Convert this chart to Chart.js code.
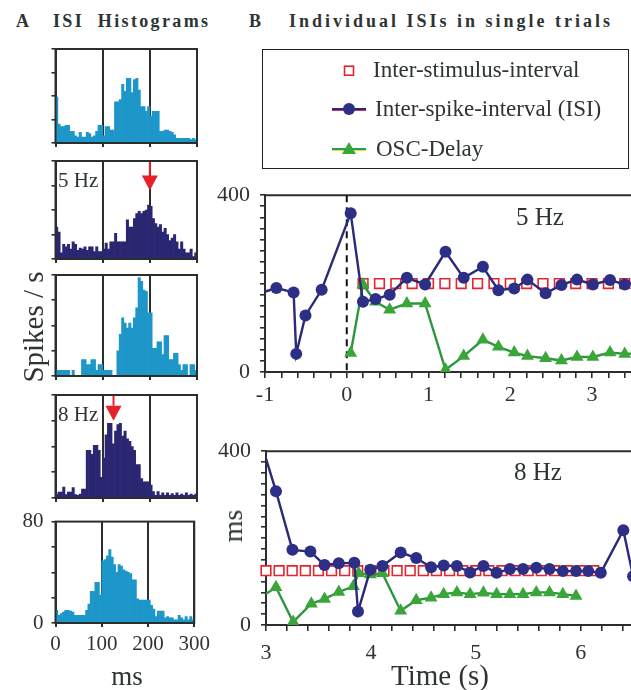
<!DOCTYPE html>
<html>
<head>
<meta charset="utf-8">
<title>ISI histograms and single-trial ISIs</title>
<script src="https://cdn.jsdelivr.net/npm/chart.js@4.4.1/dist/chart.umd.min.js"></script>
<style>
  html, body { margin: 0; padding: 0; background: #fff; }
  body { position: relative; width: 631px; height: 690px; overflow: hidden;
         font-family: "Liberation Serif", "Times New Roman", serif; color: #2e3434; }
  canvas, .txt { position: absolute; }
  .txt { white-space: pre; line-height: 1; }
  .bold { font-weight: bold; font-size: 18px; }
  .rot { transform: translate(-50%, -50%) rotate(-90deg); }
  .ctr { transform: translate(-50%, -50%); }
  .leg { font-size: 23px; }
  #legendBox { position: absolute; left: 262px; top: 49px; width: 365px; height: 118px; border: 1.6px solid #222; }
</style>
</head>
<body>
<div class="txt bold" style="left:16px; top:12px;">A</div>
<div class="txt bold" id="titleA" style="left:53px; top:12px;">ISI  Histograms</div>
<div class="txt bold" style="left:249px; top:12px;">B</div>
<div class="txt bold" id="titleB" style="left:289px; top:12px;">Individual ISIs in single trials</div>

<canvas id="h1"></canvas>
<canvas id="h2"></canvas>
<canvas id="h3"></canvas>
<canvas id="h4"></canvas>
<canvas id="h5"></canvas>
<canvas id="c5"></canvas>
<canvas id="c8"></canvas>

<div class="txt" style="left:58px; top:170px; font-size:21px;">5 Hz</div>
<div class="txt" style="left:58px; top:404px; font-size:21px;">8 Hz</div>
<div class="txt rot" style="left:33px; top:327px; font-size:29px;">Spikes / s</div>
<div class="txt ctr" style="left:127px; top:676px; font-size:27px;">ms</div>
<div class="txt ctr" style="left:540px; top:216px; font-size:25px;">5 Hz</div>
<div class="txt ctr" style="left:538px; top:471px; font-size:25px;">8 Hz</div>
<div class="txt rot" style="left:233px; top:526px; font-size:28px;">ms</div>
<div class="txt ctr" style="left:440px; top:675px; font-size:29px;">Time (s)</div>

<div id="legendBox"></div>
<svg style="position:absolute; left:262px; top:49px;" width="367" height="120">
  <rect x="82.5" y="17.2" width="9" height="9" fill="#fff" stroke="#e3262d" stroke-width="1.6"/>
  <line x1="70" y1="61.3" x2="104" y2="61.3" stroke="#c0307a" stroke-width="1.2"/>
  <line x1="70" y1="60" x2="104" y2="60" stroke="#2b2a78" stroke-width="2.2"/>
  <circle cx="87" cy="60" r="6" fill="#2d2f86"/>
  <line x1="70" y1="101.3" x2="104" y2="101.3" stroke="#e6e22a" stroke-width="1.2"/>
  <line x1="70" y1="100" x2="104" y2="100" stroke="#2a9a5a" stroke-width="2.2"/>
  <polygon points="87,93 80,105 94,105" fill="#3aa63a"/>
</svg>
<div class="txt leg" style="left:373px; top:58px;">Inter-stimulus-interval</div>
<div class="txt leg" style="left:375px; top:96.5px;">Inter-spike-interval (ISI)</div>
<div class="txt leg" style="left:376px; top:136.5px;">OSC-Delay</div>

<script>
// ---- histogram data (5 ms bins, spikes/s) ----
const binStart = [0, 5, 10, 15, 20, 25, 30, 35, 40, 45, 50, 55, 60, 65, 70, 75, 80, 85, 90, 95,
  100, 105, 110, 115, 120, 125, 130, 135, 140, 145, 150, 155, 160, 165, 170, 175, 180, 185, 190, 195,
  200, 205, 210, 215, 220, 225, 230, 235, 240, 245, 250, 255, 260, 265, 270, 275, 280, 285, 290, 295];
const binWidth = 5;
const histTop = [39, 16, 14, 14, 15, 15, 10, 10, 6, 5, 9, 5, 5, 9, 8, 5, 6, 10, 15, 15,
  6, 14, 14, 11, 11, 35, 35, 37, 50, 44, 55, 55, 43, 54, 55, 45, 31, 31, 27, 31,
  23, 27, 27, 27, 10, 10, 11, 11, 10, 9, 7, 4, 4, 4, 4, 4, 4, 3, 4, 3];
const hist5Hz = [26, 22, 5, 12, 10, 12, 8, 14, 12, 7, 9, 8, 10, 7, 10, 10, 6, 10, 6, 6,
  8, 13, 8, 14, 14, 21, 14, 14, 14, 14, 32, 26, 26, 33, 37, 39, 37, 39, 40, 44,
  43, 33, 29, 26, 28, 22, 25, 20, 15, 17, 20, 14, 8, 14, 8, 5, 5, 8, 2, 5];
const histMid = [4.5, 4.5, 4.5, 4.5, 4.5, 4.5, 0, 4.5, 0, 0, 0, 13, 13, 9, 9, 13, 13, 4.5, 9, 9,
  4.5, 4.5, 4.5, 4.5, 0, 0, 20, 33, 46, 42, 38, 42, 38, 46, 54, 78, 75, 68, 67, 50,
  50, 22, 22, 27, 27, 17, 32, 32, 13, 13, 18, 18, 9, 4.5, 9, 9, 0, 9, 9, 4.5];
const hist8Hz = [2.6, 4.6, 4.6, 8.5, 2.6, 4.6, 4.6, 8, 2.6, 2, 3, 7, 7, 37, 37, 34, 41, 41, 37, 16,
  31, 49, 58, 58, 42, 52, 57, 58, 48, 52, 46, 44, 40, 37, 26, 26, 15, 12.5, 12.5, 12.5,
  10, 5, 2, 5, 2, 4, 2, 4, 2, 3.4, 2, 4, 2, 3, 2, 4, 2, 3, 2, 3];
const histBottom = [10, 6, 7.5, 8.7, 10, 10, 9.4, 8.7, 6, 6, 6, 6, 6, 10, 15, 25, 25, 32, 32, 22,
  49, 50, 53, 58, 52, 46, 40, 46, 45, 42, 41, 40, 39, 34, 34, 19, 18, 18, 18, 18,
  18, 14, 11, 5, 9.4, 9.4, 9.4, 4, 5, 4, 4, 2.5, 2.5, 6, 4, 2.5, 5, 2.5, 5, 2.5];
const histXTicks = [0, 100, 200, 300];
const histYTicks = [0, 20, 40, 60, 80];
const arrowMs = [200, 123];
const arrowTip = [56, 60];

// ---- single trials: time (s) and interval (ms) ----
const t5Isi = [-1.1, -0.861, -0.65, -0.618, -0.505, -0.307, 0.048, 0.198, 0.352, 0.525, 0.735, 0.958,
  1.208, 1.43, 1.665, 1.855, 2.048, 2.21, 2.432, 2.626, 2.816, 3.01, 3.22, 3.40, 3.6];
const isi5 = [176, 190, 180, 41, 128, 186, 359, 159, 165, 175, 213, 198,
  272, 213, 238, 185, 189, 209, 178, 197, 209, 198, 208, 198, 205];
const t5Osc = [0.048, 0.198, 0.352, 0.525, 0.735, 0.958, 1.208, 1.43, 1.665, 1.855,
  2.048, 2.21, 2.432, 2.626, 2.816, 3.01, 3.22, 3.40, 3.6];
const osc5 = [43, 198, 159, 141, 155, 155, 5, 36, 73, 57, 44, 36, 31, 26, 34, 34, 44, 41, 42];
const t5Stim = [0.2, 0.4, 0.6, 0.8, 1.0, 1.2, 1.4, 1.6, 1.8, 2.0, 2.2, 2.4, 2.6, 2.8, 3.0, 3.2, 3.4];
const stim5 = [200, 200, 200, 200, 200, 200, 200, 200, 200, 200, 200, 200, 200, 200, 200, 200, 200];

const t8Isi = [2.94, 3.095, 3.252, 3.423, 3.558, 3.694, 3.842, 3.877, 3.994, 4.11, 4.284, 4.432, 4.574, 4.694,
  4.82, 4.946, 5.073, 5.199, 5.325, 5.451, 5.577, 5.703, 5.83, 5.956, 6.072, 6.192, 6.407, 6.5];
const isi8 = [430, 308, 173, 169, 138, 142, 143, 31, 127, 136, 167, 154, 133, 137,
  136, 121, 136, 120, 129, 129, 132, 129, 124, 124, 124, 120, 218, 112];
const t8Osc = [2.94, 3.095, 3.259, 3.432, 3.558, 3.694, 3.833, 3.883, 3.994, 4.11, 4.284, 4.432,
  4.574, 4.694, 4.82, 4.946, 5.073, 5.199, 5.325, 5.451, 5.577, 5.703, 5.83, 5.956];
const osc8 = [62, 87, 7, 49, 60, 76, 89, 119, 116, 119, 33, 57, 63, 71, 75, 71, 74, 71, 71, 71, 75, 75, 71, 67];
const t8Stim = [3.0, 3.125, 3.25, 3.375, 3.5, 3.625, 3.75, 3.875, 4.0, 4.125, 4.25, 4.375, 4.5,
  4.625, 4.75, 4.875, 5.0, 5.125, 5.25, 5.375, 5.5, 5.625, 5.75, 5.875, 6.0, 6.125];
const stim8 = [125, 125, 125, 125, 125, 125, 125, 125, 125, 125, 125, 125, 125,
  125, 125, 125, 125, 125, 125, 125, 125, 125, 125, 125, 125, 125];
const xLabels5 = [-1, 0, 1, 2, 3];
const xLabels8 = [3, 4, 5, 6];
const stimOnset = 0;

// ---- styling ----
const textColor = '#2e3434';
const frameColor = '#2a2f2e';
const cyan = '#1d97c9';
const navy = '#2b2672';
const serif = '"Liberation Serif", "Times New Roman", serif';

// frame box + red arrow for the histograms
const histFrame = {
  id: 'histFrame',
  afterDatasetsDraw(chart, args, opts) {
    const { ctx, chartArea: a, scales } = chart;
    ctx.save();
    if (opts.ms != null) {
      const x = scales.x.getPixelForValue(opts.ms);
      const tipY = scales.y.getPixelForValue(opts.tip);
      const h = 15, w = 16;
      ctx.strokeStyle = '#e8202a';
      ctx.lineWidth = 2;
      ctx.beginPath(); ctx.moveTo(x, a.top); ctx.lineTo(x, tipY - h); ctx.stroke();
      ctx.fillStyle = '#e8202a';
      ctx.beginPath();
      ctx.moveTo(x - w / 2, tipY - h); ctx.lineTo(x + w / 2, tipY - h); ctx.lineTo(x, tipY);
      ctx.closePath(); ctx.fill();
    }
    ctx.strokeStyle = frameColor;
    ctx.lineWidth = 2;
    ctx.strokeRect(a.left, a.top, a.right - a.left, a.bottom - a.top);
    ctx.restore();
  }
};

// top frame line + dashed stimulus onset for the trial plots
const trialFrame = {
  id: 'trialFrame',
  beforeDatasetsDraw(chart, args, opts) {
    const { ctx, chartArea: a, scales } = chart;
    ctx.save();
    ctx.strokeStyle = frameColor;
    ctx.lineWidth = 2;
    ctx.beginPath(); ctx.moveTo(a.left, a.top); ctx.lineTo(a.right, a.top); ctx.stroke();
    if (opts.onset != null) {
      const x = scales.x.getPixelForValue(opts.onset);
      ctx.strokeStyle = '#111';
      ctx.lineWidth = 2;
      ctx.setLineDash([7, 5]);
      ctx.beginPath(); ctx.moveTo(x, a.top); ctx.lineTo(x, a.bottom); ctx.stroke();
    }
    ctx.restore();
  }
};

function histChart(id, top, bottom, values, color, showLabels, arrow) {
  const padTop = 14;
  const axisH = showLabels ? 36 : 12;
  const w = 215, h = padTop + (bottom - top) + axisH;
  const c = document.getElementById(id);
  c.width = w; c.height = h;
  c.style.left = '0px'; c.style.top = (top - padTop) + 'px';
  c.style.width = w + 'px'; c.style.height = h + 'px';
  const tickFont = { family: serif, size: 21 };
  return new Chart(c, {
    type: 'bar',
    data: {
      datasets: [{
        data: binStart.map((s, i) => ({ x: s + binWidth / 2, y: values[i] })),
        backgroundColor: color, borderWidth: 0,
        barPercentage: 1, categoryPercentage: 1
      }]
    },
    options: {
      responsive: false, animation: false,
      layout: { padding: { top: padTop, right: w - 197, left: 0, bottom: 0 } },
      plugins: { legend: { display: false }, tooltip: { enabled: false }, histFrame: arrow || {} },
      scales: {
        x: {
          type: 'linear', min: 0, max: 300, offset: false,
          afterBuildTicks: s => { s.ticks = histXTicks.map(v => ({ value: v })); },
          afterFit: s => { s.height = axisH; },
          grid: { offset: false, color: frameColor, lineWidth: 2, tickLength: 4 },
          border: { display: true, color: frameColor, width: 2 },
          ticks: { display: showLabels, padding: 5, maxRotation: 0, autoSkip: false, color: textColor, font: tickFont }
        },
        y: {
          min: 0, max: 80,
          afterBuildTicks: s => { s.ticks = histYTicks.map(v => ({ value: v })); },
          afterFit: s => { s.width = 55.5; },
          grid: { drawOnChartArea: false, tickLength: 4, color: frameColor, lineWidth: 1.6 },
          border: { display: true, color: frameColor, width: 2 },
          ticks: { display: showLabels, autoSkip: false, padding: 8, color: textColor, font: tickFont,
                   callback: v => (v === 0 || v === 80) ? String(v) : '' }
        }
      }
    },
    plugins: [histFrame]
  });
}

histChart('h1', 49, 143, histTop, cyan, false);
histChart('h2', 161, 259, hist5Hz, navy, false, { ms: arrowMs[0], tip: arrowTip[0] });
histChart('h3', 275, 376, histMid, cyan, false);
histChart('h4', 395, 498, hist8Hz, navy, false, { ms: arrowMs[1], tip: arrowTip[1] });
histChart('h5', 515, 623, histBottom, cyan, true);

function pts(xs, ys) { return xs.map((x, i) => ({ x: x, y: ys[i] })); }

function trialChart(id, left, plotTop, plotBottom, axisH, xMin, xMax, labels, labelPad,
                    tStim, stim, tIsi, isi, tOsc, osc, onset) {
  const padTop = 14;
  const w = 440, h = padTop + (plotBottom - plotTop) + axisH;
  const c = document.getElementById(id);
  c.width = w; c.height = h;
  c.style.left = left + 'px'; c.style.top = (plotTop - padTop) + 'px';
  c.style.width = w + 'px'; c.style.height = h + 'px';
  const xTicks = [];
  for (let k = 0; xMin + k * 0.2 <= xMax - 0.1; k++) xTicks.push(Math.round((xMin + k * 0.2) * 10) / 10);
  const yTicks = [];
  for (let v = 0; v <= 400; v += 25) yTicks.push(v);
  const tickFont = { family: serif, size: 22 };
  return new Chart(c, {
    type: 'line',
    data: {
      datasets: [
        { label: 'Inter-spike-interval (ISI)', data: pts(tIsi, isi),
          borderColor: '#2b2a78', backgroundColor: '#2d2f86', borderWidth: 2.4,
          pointRadius: 6, pointBorderWidth: 0, pointBackgroundColor: '#2d2f86' },
        { label: 'OSC-Delay', data: pts(tOsc, osc),
          borderColor: '#2e9640', backgroundColor: '#3aa63a', borderWidth: 2.4,
          pointStyle: 'triangle', pointRadius: 7.5, pointBorderWidth: 0, pointBackgroundColor: '#3aa63a' },
        { label: 'Inter-stimulus-interval', data: pts(tStim, stim), showLine: false,
          pointStyle: 'rect', pointRadius: 6.8, pointBorderWidth: 1.6,
          pointBorderColor: '#e3262d', pointBackgroundColor: '#fff', clip: false }
      ]
    },
    options: {
      responsive: false, animation: false,
      layout: { padding: { top: padTop, right: 5, left: 0, bottom: 0 } },
      plugins: { legend: { display: false }, tooltip: { enabled: false }, trialFrame: { onset: onset } },
      scales: {
        x: {
          type: 'linear', min: xMin, max: xMax,
          afterBuildTicks: s => { s.ticks = xTicks.map(v => ({ value: v })); },
          afterFit: s => { s.height = axisH; },
          grid: { drawOnChartArea: false, tickLength: 6, color: frameColor, lineWidth: 1.6 },
          border: { display: true, color: frameColor, width: 2 },
          ticks: { padding: labelPad, maxRotation: 0, autoSkip: false, color: textColor, font: tickFont,
                   callback: v => labels.some(l => Math.abs(l - v) < 1e-6) ? String(Math.round(v)) : '' }
        },
        y: {
          min: 0, max: 400,
          afterBuildTicks: s => { s.ticks = yTicks.map(v => ({ value: v })); },
          afterFit: s => { s.width = 60; },
          grid: { drawOnChartArea: false, tickLength: 5, color: frameColor, lineWidth: 1.6 },
          border: { display: true, color: frameColor, width: 2 },
          ticks: { autoSkip: false, padding: 10, color: textColor, font: tickFont,
                   callback: v => (v === 0 || v === 400) ? String(v) : '' }
        }
      }
    },
    plugins: [trialFrame]
  });
}

trialChart('c5', 205, 186, 372, 34, -1, 3.545, xLabels5, 4,
  t5Stim, stim5, t5Isi, isi5, t5Osc, osc5, stimOnset);
trialChart('c8', 206, 442, 625, 45, 3, 6.543, xLabels8, 9.5,
  t8Stim, stim8, t8Isi, isi8, t8Osc, osc8, null);

// stretch the bold titles to their width in the figure
function spreadTo(id, target) {
  const el = document.getElementById(id);
  const n = el.textContent.length;
  const w = el.getBoundingClientRect().width;
  el.style.letterSpacing = ((target - w) / (n - 1)) + 'px';
}
spreadTo('titleA', 155);
spreadTo('titleB', 321);
</script>
</body>
</html>
